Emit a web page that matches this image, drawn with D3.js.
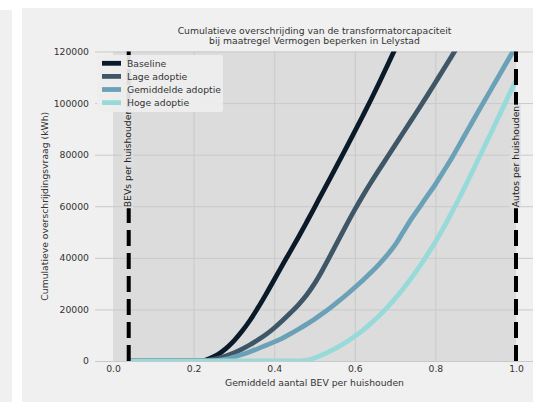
<!DOCTYPE html>
<html>
<head>
<meta charset="utf-8">
<script src="https://cdn.jsdelivr.net/npm/d3@7"></script>
<style>
  body { margin: 0; background: #ffffff; }
  svg { display: block; }
  text { font-family: "DejaVu Sans", sans-serif; }
</style>
</head>
<body>
<svg id="chart" width="533" height="402"></svg>
<script>
// ---- data ----
const titleLines = [
  "Cumulatieve overschrijding van de transformatorcapaciteit",
  "bij maatregel Vermogen beperken in Lelystad"
];
const xLabel = "Gemiddeld aantal BEV per huishouden";
const yLabel = "Cumulatieve overschrijdingsvraag (kWh)";
const xTicks = [0.0, 0.2, 0.4, 0.6, 0.8, 1.0];
const yTicks = [0, 20000, 40000, 60000, 80000, 100000, 120000];

// average number of BEVs per household
const bevShare = [
  0.04, 0.06, 0.08, 0.10, 0.12, 0.14, 0.16, 0.18, 0.20, 0.22,
  0.24, 0.26, 0.28, 0.30, 0.32, 0.34, 0.36, 0.38, 0.40, 0.42,
  0.44, 0.46, 0.48, 0.50, 0.52, 0.54, 0.56, 0.58, 0.60, 0.62,
  0.64, 0.66, 0.68, 0.70, 0.72, 0.74, 0.76, 0.78, 0.80, 0.82,
  0.84, 0.86, 0.88, 0.90, 0.92, 0.94, 0.96, 0.98, 1.00
];

// cumulative exceedance demand (kWh); null = beyond the plotted range
const baseline = [
  0, 0, 0, 0, 0, 0, 0, 0, 0, 0,
  1000, 2500, 4800, 7800, 11500, 15800, 20700, 26000, 31500, 37100,
  42500, 48000, 53700, 59500, 65400, 71200, 77100, 83000, 89000, 95100,
  101300, 107700, 114300, 121000, null, null, null, null, null, null,
  null, null, null, null, null, null, null, null, null
];
const lageAdoptie = [
  0, 0, 0, 0, 0, 0, 0, 0, 0, 0,
  400, 1000, 1900, 3100, 4600, 6300, 8200, 10300, 12800, 15600,
  18600, 21800, 25500, 30000, 35300, 41100, 47100, 53000, 58700, 64100,
  69200, 74100, 78900, 83700, 88500, 93300, 98100, 103000, 108000, 113000,
  118100, 123200, null, null, null, null, null, null, null
];
const gemiddeldeAdoptie = [
  0, 0, 0, 0, 0, 0, 0, 0, 0, 0,
  0, 200, 700, 1500, 2500, 3600, 4800, 6100, 7400, 8800,
  10500, 12300, 14200, 16200, 18400, 20700, 23200, 25800, 28500, 31300,
  34300, 37500, 41000, 45000, 50000, 55000, 59500, 64000, 68500, 73500,
  78500, 84000, 89500, 95000, 100400, 105800, 111200, 116600, 122000
];
const hogeAdoptie = [
  0, 0, 0, 0, 0, 0, 0, 0, 0, 0,
  0, 0, 0, 0, 0, 0, 0, 0, 0, 0,
  0, 0, 300, 1200, 2400, 3900, 5600, 7500, 9600, 11900,
  14600, 17500, 20700, 24200, 28000, 32100, 36500, 41200, 46200, 51600,
  57400, 63400, 69700, 76100, 82600, 89100, 95700, 102300, 108900
];

const seriesNames = ["Baseline", "Lage adoptie", "Gemiddelde adoptie", "Hoge adoptie"];
const seriesValues = [baseline, lageAdoptie, gemiddeldeAdoptie, hogeAdoptie];
const seriesColors = ["#0b1a29", "#3f5667", "#6aa1b7", "#98dada"];

// reference lines: current BEVs and cars per household
const markerValues = [0.039, 1.0];
const markerLabels = ["BEVs per huishouden", "Autos per huishouden"];
const markerLabelAt = 60000;

// ---- layout ----
const W = 533, H = 402;
const plot = { left: 113, right: 516, top: 51.5, bottom: 361 };
const svg = d3.select("#chart");

// figure background panels
svg.append("rect").attr("x", 0).attr("y", 10).attr("width", 12).attr("height", H - 10).attr("fill", "#f0f0f0");
svg.append("rect").attr("x", 22).attr("y", 8).attr("width", W - 22).attr("height", H - 8).attr("fill", "#f0f0f0");

const x = d3.scaleLinear().domain([0, 1]).range([plot.left, plot.right]);
const y = d3.scaleLinear().domain([0, 120000]).range([plot.bottom, plot.top]);

// axes background
svg.append("rect")
  .attr("x", plot.left).attr("y", plot.top)
  .attr("width", plot.right - plot.left).attr("height", plot.bottom - plot.top)
  .attr("fill", "#dcdcdc");

// grid lines via axes with full-length ticks
const gridColor = "#c9c9c9";
const yGrid = svg.append("g")
  .attr("transform", `translate(${plot.right + 17},0)`)
  .call(d3.axisLeft(y).tickValues(yTicks).tickSize(plot.right - plot.left + 17 + 18).tickFormat(""));
yGrid.select(".domain").remove();
yGrid.selectAll("line").attr("stroke", gridColor).attr("stroke-width", 1);

const xGrid = svg.append("g")
  .attr("transform", `translate(0,${plot.bottom})`)
  .call(d3.axisTop(x).tickValues(xTicks.filter(v => v > 0 && v < 1)).tickSize(plot.bottom - plot.top).tickFormat(""));
xGrid.select(".domain").remove();
xGrid.selectAll("line").attr("stroke", gridColor).attr("stroke-width", 1);

// tick labels
const yAxis = svg.append("g")
  .attr("transform", `translate(${plot.left - 24},0)`)
  .call(d3.axisLeft(y).tickValues(yTicks).tickSize(0).tickPadding(0).tickFormat(d3.format("d")));
yAxis.select(".domain").remove();
yAxis.selectAll("text").attr("fill", "#333").style("font-size", "9.25px").style("font-family", "DejaVu Sans");

const xAxis = svg.append("g")
  .attr("transform", `translate(0,${plot.bottom})`)
  .call(d3.axisBottom(x).tickValues(xTicks).tickSize(0).tickPadding(4).tickFormat(d3.format(".1f")));
xAxis.select(".domain").remove();
xAxis.selectAll("text").attr("fill", "#333").style("font-size", "9.25px").style("font-family", "DejaVu Sans");

// curves
svg.append("clipPath").attr("id", "plotClip")
  .append("rect")
  .attr("x", plot.left).attr("y", plot.top)
  .attr("width", plot.right - plot.left).attr("height", plot.bottom - plot.top);

const line = d3.line()
  .defined(d => d[1] !== null)
  .x(d => x(d[0]))
  .y(d => y(d[1]))
  .curve(d3.curveMonotoneX);

const curves = svg.append("g").attr("clip-path", "url(#plotClip)");
seriesValues.forEach((vals, i) => {
  curves.append("path")
    .datum(bevShare.map((b, j) => [b, vals[j]]))
    .attr("d", line)
    .attr("fill", "none")
    .attr("stroke", seriesColors[i])
    .attr("stroke-width", 4.8)
    .attr("stroke-linejoin", "round");
});

// dashed reference lines with boxed labels
markerValues.forEach((v, i) => {
  svg.append("line")
    .attr("x1", x(v)).attr("x2", x(v))
    .attr("y1", y(0)).attr("y2", y(120000))
    .attr("stroke", "#000")
    .attr("stroke-width", 4)
    .attr("stroke-dasharray", "16,7");
  const g = svg.append("g")
    .attr("transform", `translate(${x(v) + 2.6},${y(markerLabelAt) + 1}) rotate(-90)`);
  const box = g.append("rect").attr("fill", "#dedede");
  const t = g.append("text")
    .attr("fill", "#222")
    .style("font-size", "9.25px")
    .text(markerLabels[i]);
  const bb = t.node().getBBox();
  box.attr("x", bb.x - 1).attr("y", bb.y)
    .attr("width", bb.width + 2).attr("height", bb.height);
});

// legend
const legend = svg.append("g");
legend.append("rect")
  .attr("x", 97).attr("y", 55).attr("width", 126).attr("height", 57)
  .attr("rx", 2)
  .attr("fill", "#eeeeee").attr("fill-opacity", 0.92);
seriesNames.forEach((name, i) => {
  const cy = 63.3 + i * 13.1;
  legend.append("line")
    .attr("x1", 102).attr("x2", 121).attr("y1", cy).attr("y2", cy)
    .attr("stroke", seriesColors[i]).attr("stroke-width", 4.8);
  legend.append("text")
    .attr("x", 127).attr("y", cy + 3.4)
    .attr("fill", "#333")
    .style("font-size", "9.25px")
    .text(name);
});

// title and axis labels
const cx = (plot.left + plot.right) / 2;
titleLines.forEach((t, i) => {
  svg.append("text")
    .attr("x", cx).attr("y", 33.5 + i * 10.5)
    .attr("text-anchor", "middle")
    .attr("fill", "#333")
    .style("font-size", "9.25px")
    .text(t);
});
svg.append("text")
  .attr("x", cx).attr("y", 386)
  .attr("text-anchor", "middle")
  .attr("fill", "#333")
  .style("font-size", "9.25px")
  .text(xLabel);
svg.append("text")
  .attr("transform", `translate(47.5,${(plot.top + plot.bottom) / 2}) rotate(-90)`)
  .attr("text-anchor", "middle")
  .attr("fill", "#333")
  .style("font-size", "9.25px")
  .text(yLabel);
</script>
</body>
</html>
